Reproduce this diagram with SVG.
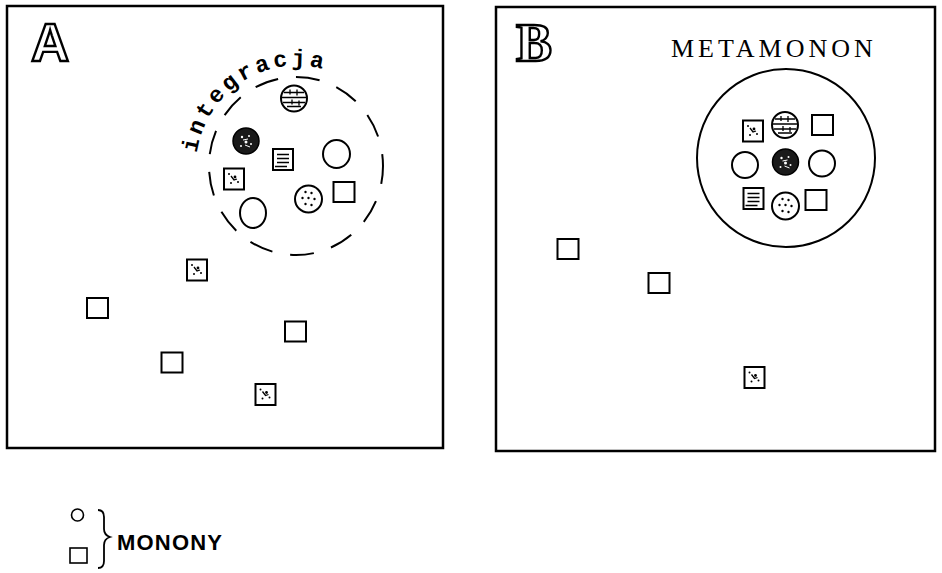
<svg xmlns="http://www.w3.org/2000/svg" xmlns:xlink="http://www.w3.org/1999/xlink" width="942" height="573" viewBox="0 0 942 573">
  <style>
    .frame { fill: none; stroke: #000; stroke-width: 2.5; }
    .ink { fill: #fff; stroke: #000; stroke-width: 2; }
    .thin { fill: none; stroke: #000; stroke-width: 1.3; }
    .dot { fill: #000; }
    .speck { fill: #fff; }
    .big { font-weight: bold; fill: #fff; stroke: #000; stroke-width: 2.4; }
  </style>
  <defs>
    <!-- plain monon square, centred on 0,0 -->
    <g id="sq"><rect class="ink" x="-10.5" y="-10" width="21" height="20"/></g>
    <!-- speckled square -->
    <g id="sqDots">
      <rect class="ink" x="-10" y="-10.5" width="20" height="21"/>
      <circle class="dot" cx="-5" cy="-5" r="1"/>
      <circle class="dot" cx="1" cy="-2" r="1.4"/>
      <circle class="dot" cx="4" cy="3" r="1"/>
      <circle class="dot" cx="-3" cy="4" r="1"/>
      <path class="thin" d="M-3,-3 L0,1 L3,0"/>
    </g>
    <!-- lined square -->
    <g id="sqLines">
      <rect class="ink" x="-10" y="-10.5" width="20" height="21"/>
      <path class="thin" d="M-6,-5 H6 M-6,-1 H6 M-6,3 H6 M-8,7 H4"/>
    </g>
    <!-- empty monon circle -->
    <g id="cEmpty"><circle class="ink" r="13"/></g>
    <!-- dotted circle -->
    <g id="cDots">
      <circle class="ink" r="13.5"/>
      <circle class="dot" cx="-3" cy="-7" r="1.2"/>
      <circle class="dot" cx="3" cy="-6" r="1.2"/>
      <circle class="dot" cx="-6" cy="-1" r="1.2"/>
      <circle class="dot" cx="0" cy="-1" r="1.2"/>
      <circle class="dot" cx="6" cy="0" r="1.2"/>
      <circle class="dot" cx="-3" cy="5" r="1.2"/>
      <circle class="dot" cx="3" cy="6" r="1.2"/>
    </g>
    <!-- cross-hatched circle -->
    <g id="cHatch">
      <circle class="ink" r="13"/>
      <path class="thin" d="M-10,-6 H10 M-12,-1 H12 M-11,4 H11 M-7,8 H7 M-4,-9 V-4 M3,-9 V-3 M-2,1 V6 M5,2 V7"/>
    </g>
    <!-- dark circle -->
    <g id="cDark">
      <circle r="13" fill="#1a1a1a" stroke="#000" stroke-width="1.5"/>
      <circle class="speck" cx="-4" cy="-4" r="1.2"/>
      <circle class="speck" cx="3" cy="-5" r="1"/>
      <circle class="speck" cx="0" cy="1" r="1.5"/>
      <circle class="speck" cx="5" cy="3" r="1"/>
      <circle class="speck" cx="-5" cy="5" r="1"/>
      <path d="M-3,-1 L2,-2 M-1,4 L4,6" stroke="#fff" stroke-width="1"/>
    </g>
    <!-- arc carrying the word "integracja" -->
    <path id="arcA" d="M197,153 A101,101 0 0 1 346.5,78.5"/>
  </defs>

  <!-- Panel A -->
  <g id="panelA">
    <rect class="frame" x="7" y="6" width="436" height="442"/>
    <text class="big" x="31" y="61" font-family="'Liberation Sans', Arial, sans-serif" font-size="53">A</text>
    <ellipse cx="296" cy="166" rx="87" ry="89" fill="none" stroke="#000" stroke-width="2" stroke-dasharray="24 18" stroke-dashoffset="6"/>
    <text font-family="'Liberation Mono', 'Courier New', monospace" font-size="23" font-weight="bold" letter-spacing="3.6" fill="#000">
      <textPath xlink:href="#arcA" href="#arcA">integracja</textPath>
    </text>
  </g>
  <g id="a-hatch"><use href="#cHatch" x="294" y="98.5"/></g>
  <g id="a-dark"><use href="#cDark" x="246" y="141"/></g>
  <g id="a-lines"><use href="#sqLines" x="283" y="159.5"/></g>
  <g id="a-circle1"><ellipse class="ink" cx="336.5" cy="154" rx="13.5" ry="14"/></g>
  <g id="a-speck1"><use href="#sqDots" x="234" y="179"/></g>
  <g id="a-dots"><use href="#cDots" x="308.5" y="199"/></g>
  <g id="a-sq1"><use href="#sq" x="344" y="192"/></g>
  <g id="a-circle2"><ellipse class="ink" cx="253" cy="213" rx="13" ry="15"/></g>
  <g id="a-speck2"><use href="#sqDots" x="197" y="270"/></g>
  <g id="a-sq2"><use href="#sq" x="97.5" y="308"/></g>
  <g id="a-sq3"><use href="#sq" x="295.5" y="331.5"/></g>
  <g id="a-sq4"><use href="#sq" x="172" y="362.5"/></g>
  <g id="a-speck3"><use href="#sqDots" x="265.5" y="394.5"/></g>

  <!-- Panel B -->
  <g id="panelB">
    <rect class="frame" x="496" y="7" width="439" height="444"/>
    <text class="big" x="516" y="61" font-family="'Liberation Serif', 'Times New Roman', serif" font-size="54">B</text>
    <text x="671" y="57" font-family="'Liberation Serif', 'Times New Roman', serif" font-size="26" letter-spacing="4" fill="#000">METAMONON</text>
  </g>
  <g id="metamonon">
    <circle cx="786" cy="158" r="89" fill="none" stroke="#000" stroke-width="2"/>
    <use href="#sqDots" x="753" y="131"/>
    <use href="#cHatch" x="785" y="125"/>
    <use href="#sq" x="822.5" y="125"/>
    <use href="#cEmpty" x="745" y="165"/>
    <use href="#cDark" x="785.5" y="162"/>
    <use href="#cEmpty" x="822" y="163.5"/>
    <use href="#sqLines" x="753.5" y="198.5"/>
    <use href="#cDots" x="785.5" y="206"/>
    <use href="#sq" x="816" y="200"/>
  </g>
  <g id="b-sq1"><use href="#sq" x="568" y="249"/></g>
  <g id="b-sq2"><use href="#sq" x="659" y="283"/></g>
  <g id="b-speck"><use href="#sqDots" x="754.5" y="377.5"/></g>

  <!-- Legend -->
  <g id="legend">
    <circle cx="77.5" cy="515" r="6" fill="#fff" stroke="#000" stroke-width="1.6"/>
    <rect x="70" y="548" width="17" height="15" fill="#fff" stroke="#000" stroke-width="1.6"/>
    <path d="M98,510 Q104,510 104,517 L104,529 Q104,535 110,537 Q104,539 104,545 L104,561 Q104,568 98,568" fill="none" stroke="#000" stroke-width="1.8"/>
    <text x="117" y="550" font-family="'Liberation Sans', Arial, sans-serif" font-size="22" font-weight="bold" letter-spacing="1.2" fill="#000">MONONY</text>
  </g>
</svg>
